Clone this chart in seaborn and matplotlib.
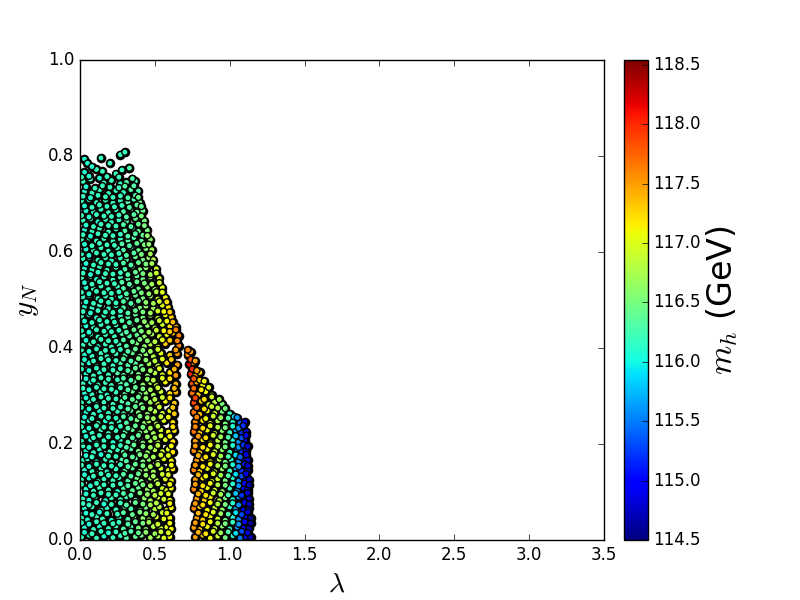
import matplotlib
matplotlib.use("Agg")
import matplotlib.pyplot as plt
from matplotlib.ticker import FormatStrFormatter
import seaborn as sns

# values, one line per band of y_N
lam_left = [
    .01,.06,.11,.16,.22,.27,.31,.37,.41,.47,.52,.56,.60,
    .03,.09,.13,.19,.24,.29,.34,.39,.44,.49,.54,.58,.61,
    .01,.05,.11,.15,.21,.26,.32,.36,.42,.46,.51,.56,.60,
    .03,.08,.14,.18,.24,.30,.34,.40,.44,.50,.53,.58,.61,
    .02,.06,.10,.17,.21,.27,.31,.37,.43,.47,.52,.56,.60,
    .04,.09,.13,.19,.25,.29,.35,.39,.45,.49,.55,.58,.61,
    .01,.06,.12,.16,.22,.26,.32,.38,.41,.47,.51,.57,.61,
    .03,.08,.14,.18,.24,.30,.35,.40,.44,.49,.54,.59,.62,
    .02,.05,.11,.17,.21,.28,.31,.37,.42,.46,.52,.56,.61,
    .04,.09,.13,.20,.25,.29,.34,.39,.45,.50,.55,.59,.62,
    .01,.07,.11,.16,.22,.27,.32,.36,.42,.47,.52,.57,.62,
    .03,.08,.14,.19,.24,.30,.35,.40,.44,.49,.54,.59,.63,
    .02,.06,.12,.17,.21,.26,.31,.38,.43,.46,.51,.56,.62,
    .04,.09,.13,.19,.25,.29,.34,.39,.45,.50,.55,.60,.63,
    .01,.06,.11,.16,.22,.28,.32,.37,.41,.47,.52,.57,.63,
    .03,.08,.14,.18,.24,.30,.35,.40,.44,.49,.54,.60,.64,
    .02,.07,.12,.17,.21,.27,.31,.36,.42,.47,.51,.57,.64,
    .04,.09,.13,.19,.25,.29,.34,.39,.45,.50,.55,.60,.64,
    .01,.06,.11,.16,.22,.27,.32,.37,.41,.46,.52,.58,.65,
    .03,.08,.14,.18,.24,.30,.35,.40,.44,.49,.54,.60,.65,
    .02,.07,.12,.17,.21,.26,.31,.38,.43,.47,.52,.57,.66,
    .02,.07,.12,.17,.23,.28,.33,.38,.43,.48,.53,.58,.62,.66,
    .04,.09,.14,.19,.24,.30,.34,.40,.45,.50,.55,.60,.64,
    .01,.06,.11,.16,.22,.27,.32,.37,.42,.47,.52,.57,.61,
    .03,.08,.13,.19,.24,.29,.35,.40,.44,.49,.55,.59,
    .02,.06,.12,.17,.21,.27,.31,.37,.42,.47,.52,.57,
    .04,.09,.14,.19,.25,.29,.34,.39,.45,.50,.55,
    .01,.07,.11,.16,.22,.27,.32,.38,.42,.47,.53,
    .03,.08,.13,.18,.24,.30,.35,.40,.44,.51,
    .02,.06,.12,.17,.21,.27,.31,.37,.42,.46,.49,
    .04,.09,.14,.19,.25,.29,.34,.39,.44,.48,
    .01,.06,.11,.16,.22,.27,.32,.36,.41,.47,
    .03,.08,.13,.19,.24,.30,.35,.39,.45,
    .02,.07,.12,.17,.21,.26,.31,.37,.43,
    .04,.09,.14,.19,.24,.29,.34,.38,.42,
    .01,.06,.11,.17,.22,.27,.32,.36,.40,
    .03,.08,.13,.19,.24,.29,.34,.39,
    .02,.07,.16,.21,.27,.31,.37,
    .03,.11,.15,.24,.28,.33,
    .03,.05,.14,.27,.30,
]
yn_left = [
    .006,.010,.004,.008,.005,.009,.004,.007,.010,.005,.008,.004,.007,
    .026,.022,.028,.024,.029,.023,.027,.025,.022,.028,.024,.027,.023,
    .046,.042,.049,.044,.041,.047,.043,.049,.045,.042,.048,.044,.046,
    .066,.069,.062,.067,.063,.069,.065,.062,.068,.064,.069,.062,.067,
    .086,.083,.089,.082,.088,.084,.090,.083,.087,.082,.089,.085,.083,
    .106,.102,.109,.104,.101,.108,.103,.109,.105,.102,.107,.103,.108,
    .126,.129,.122,.127,.124,.130,.123,.128,.122,.129,.124,.127,.123,
    .146,.143,.149,.142,.148,.144,.150,.143,.147,.142,.149,.145,.148,
    .166,.169,.163,.168,.162,.167,.164,.170,.163,.168,.162,.169,.165,
    .186,.182,.189,.184,.188,.183,.190,.185,.182,.188,.184,.189,.183,
    .206,.209,.202,.207,.203,.209,.204,.208,.202,.207,.203,.209,.205,
    .226,.223,.229,.222,.228,.224,.230,.223,.227,.222,.229,.225,.228,
    .246,.249,.243,.248,.242,.247,.244,.250,.243,.248,.242,.249,.245,
    .266,.262,.269,.264,.268,.263,.270,.265,.262,.268,.264,.269,.263,
    .286,.289,.282,.287,.283,.289,.284,.288,.282,.287,.283,.289,.285,
    .306,.303,.309,.302,.308,.304,.310,.303,.307,.302,.309,.305,.308,
    .326,.329,.323,.328,.322,.327,.324,.330,.323,.328,.322,.329,.325,
    .346,.342,.349,.344,.348,.343,.350,.345,.342,.348,.344,.349,.343,
    .366,.369,.362,.367,.363,.369,.364,.368,.362,.367,.363,.369,.365,
    .386,.383,.389,.382,.388,.384,.390,.383,.387,.382,.389,.385,.388,
    .406,.409,.403,.408,.402,.407,.404,.410,.403,.408,.402,.409,.405,
    .426,.429,.423,.428,.424,.430,.425,.427,.423,.429,.424,.428,.431,.426,
    .446,.443,.449,.442,.448,.444,.450,.443,.447,.442,.449,.445,.444,
    .466,.469,.463,.468,.462,.467,.464,.470,.463,.468,.462,.469,.464,
    .486,.483,.489,.482,.488,.484,.490,.483,.487,.482,.489,.485,
    .506,.509,.503,.508,.502,.507,.504,.510,.503,.508,.502,.505,
    .526,.523,.529,.522,.528,.524,.530,.523,.527,.522,.526,
    .546,.549,.543,.548,.542,.547,.544,.550,.543,.548,.545,
    .566,.563,.569,.562,.568,.564,.570,.563,.567,.565,
    .586,.589,.583,.588,.582,.587,.584,.590,.583,.588,.584,
    .606,.603,.609,.602,.608,.604,.610,.603,.607,.605,
    .626,.629,.623,.628,.622,.627,.624,.630,.623,.626,
    .646,.643,.649,.642,.648,.644,.650,.643,.645,
    .666,.669,.663,.668,.662,.667,.664,.670,.665,
    .686,.683,.689,.682,.688,.684,.690,.683,.686,
    .706,.709,.703,.708,.702,.707,.704,.710,.703,
    .726,.723,.729,.722,.728,.724,.730,.727,
    .747,.752,.744,.749,.742,.745,.747,
    .766,.772,.768,.763,.771,.775,
    .794,.785,.796,.803,.808,
]
mh_left = [
    116.2,116.1,116.2,116.1,116.2,116.2,116.3,116.4,116.5,116.7,116.8,117.0,117.1,
    116.1,116.2,116.1,116.2,116.2,116.3,116.3,116.5,116.6,116.8,116.9,117.0,117.1,
    116.2,116.1,116.2,116.2,116.1,116.2,116.3,116.4,116.6,116.7,116.9,117.0,117.1,
    116.1,116.2,116.1,116.2,116.2,116.3,116.3,116.5,116.5,116.8,116.8,117.0,117.1,
    116.2,116.1,116.2,116.1,116.2,116.2,116.3,116.4,116.6,116.7,116.9,116.9,117.1,
    116.1,116.2,116.2,116.2,116.1,116.3,116.4,116.4,116.6,116.7,116.9,117.0,117.1,
    116.2,116.1,116.1,116.2,116.2,116.2,116.3,116.5,116.5,116.7,116.8,117.0,117.1,
    116.1,116.2,116.2,116.1,116.2,116.3,116.4,116.5,116.6,116.7,116.9,117.0,117.2,
    116.2,116.1,116.1,116.2,116.2,116.3,116.3,116.4,116.5,116.6,116.8,117.0,117.1,
    116.1,116.2,116.2,116.2,116.2,116.3,116.3,116.5,116.6,116.8,116.9,117.0,117.2,
    116.2,116.1,116.1,116.2,116.1,116.2,116.3,116.4,116.5,116.7,116.8,117.0,117.2,
    116.1,116.2,116.2,116.2,116.2,116.3,116.4,116.5,116.6,116.7,116.9,117.1,117.2,
    116.2,116.1,116.2,116.1,116.2,116.2,116.3,116.5,116.6,116.7,116.8,117.0,117.2,
    116.1,116.2,116.1,116.2,116.2,116.3,116.3,116.5,116.6,116.8,116.9,117.1,117.3,
    116.2,116.2,116.1,116.2,116.2,116.3,116.3,116.4,116.5,116.7,116.9,117.1,117.3,
    116.1,116.2,116.2,116.1,116.2,116.3,116.4,116.5,116.6,116.7,116.9,117.2,117.4,
    116.2,116.1,116.2,116.2,116.2,116.3,116.3,116.4,116.6,116.7,116.9,117.1,117.4,
    116.1,116.2,116.1,116.2,116.3,116.3,116.4,116.5,116.6,116.8,117.0,117.2,117.5,
    116.2,116.1,116.2,116.2,116.2,116.3,116.3,116.4,116.5,116.7,116.9,117.2,117.5,
    116.1,116.2,116.2,116.2,116.2,116.3,116.4,116.5,116.6,116.8,117.0,117.3,117.5,
    116.2,116.2,116.1,116.2,116.2,116.2,116.3,116.5,116.6,116.8,117.0,117.3,117.6,
    116.2,116.1,116.2,116.2,116.2,116.3,116.3,116.4,116.6,116.7,116.9,117.1,117.4,117.6,
    116.1,116.2,116.2,116.2,116.2,116.3,116.3,116.5,116.6,116.8,116.9,117.2,117.4,
    116.2,116.1,116.2,116.2,116.2,116.2,116.3,116.4,116.5,116.7,116.9,117.1,117.3,
    116.1,116.2,116.2,116.2,116.2,116.3,116.4,116.5,116.6,116.7,117.0,117.2,
    116.2,116.1,116.2,116.2,116.2,116.2,116.3,116.4,116.5,116.7,116.9,117.1,
    116.1,116.2,116.2,116.2,116.2,116.3,116.3,116.4,116.6,116.7,117.0,
    116.2,116.2,116.1,116.2,116.2,116.2,116.3,116.4,116.5,116.7,116.9,
    116.1,116.2,116.2,116.2,116.2,116.3,116.3,116.5,116.6,116.9,
    116.2,116.1,116.2,116.2,116.2,116.2,116.3,116.4,116.5,116.6,116.8,
    116.1,116.2,116.2,116.2,116.2,116.3,116.3,116.4,116.5,116.7,
    116.2,116.1,116.2,116.2,116.2,116.2,116.3,116.3,116.4,116.6,
    116.1,116.2,116.2,116.2,116.2,116.3,116.3,116.4,116.5,
    116.2,116.2,116.1,116.2,116.2,116.2,116.3,116.4,116.5,
    116.1,116.2,116.2,116.2,116.2,116.3,116.3,116.4,116.4,
    116.2,116.1,116.2,116.2,116.2,116.2,116.3,116.3,116.4,
    116.1,116.2,116.2,116.2,116.2,116.2,116.3,116.3,
    116.2,116.2,116.2,116.2,116.2,116.3,116.3,
    116.1,116.2,116.2,116.2,116.2,116.3,
    116.1,116.1,116.2,116.2,116.2,
]

# second pass over the same cloud, the bands in between
lam_left2 = [
    .03,.08,.14,.19,.24,.30,.34,.39,.44,.50,.54,.59,
    .01,.06,.11,.16,.22,.26,.32,.37,.42,.46,.52,.60,
    .04,.08,.13,.18,.25,.29,.35,.40,.44,.49,.55,.58,
    .02,.06,.11,.16,.21,.27,.31,.37,.42,.47,.51,.60,
    .04,.09,.14,.19,.24,.29,.34,.40,.45,.50,.54,.59,
    .01,.07,.11,.16,.22,.27,.32,.37,.42,.47,.52,.60,
    .03,.09,.14,.19,.24,.29,.34,.39,.44,.49,.55,.59,
    .01,.06,.11,.16,.21,.27,.32,.37,.42,.47,.52,.61,
    .04,.08,.14,.19,.24,.30,.35,.40,.44,.49,.54,.59,
    .02,.06,.11,.16,.22,.27,.31,.36,.42,.47,.52,.61,
    .04,.09,.13,.19,.25,.29,.35,.39,.45,.50,.54,.60,
    .01,.06,.11,.16,.21,.27,.32,.37,.42,.47,.52,.62,
    .03,.08,.14,.19,.24,.29,.34,.40,.45,.49,.54,.59,
    .01,.06,.11,.16,.22,.27,.32,.37,.42,.47,.53,.62,
    .04,.09,.14,.19,.24,.30,.35,.39,.44,.50,.55,.60,
    .02,.06,.11,.16,.21,.27,.32,.37,.42,.47,.52,.63,
    .04,.09,.14,.19,.25,.29,.34,.39,.45,.49,.55,.60,
    .01,.06,.11,.16,.22,.27,.32,.37,.42,.47,.53,.63,
    .03,.09,.14,.19,.24,.29,.34,.39,.44,.50,.55,.61,
    .01,.06,.11,.17,.22,.27,.32,.37,.42,.47,.52,.64,
    .04,.09,.14,.19,.24,.29,.35,.40,.45,.50,.55,.60,.65,
    .01,.06,.11,.16,.21,.26,.31,.36,.41,.46,.51,.56,.60,.64,
    .03,.08,.13,.18,.23,.28,.33,.38,.43,.48,.53,.58,.62,
    .02,.07,.12,.17,.22,.27,.32,.37,.42,.47,.52,.56,.60,
    .04,.09,.14,.19,.24,.29,.34,.39,.44,.49,.53,.58,
    .01,.06,.11,.16,.21,.26,.31,.36,.41,.46,.51,.55,
    .03,.08,.13,.18,.23,.28,.33,.38,.43,.48,.53,
    .02,.07,.12,.17,.22,.27,.32,.37,.42,.47,.51,
    .04,.09,.14,.19,.24,.29,.34,.39,.44,.48,
    .01,.06,.11,.16,.21,.26,.31,.36,.41,.47,
    .03,.08,.13,.18,.23,.28,.33,.38,.43,.46,
    .02,.07,.12,.17,.22,.27,.32,.37,.42,.45,
    .04,.09,.14,.19,.24,.29,.34,.39,.43,
    .01,.06,.11,.16,.21,.26,.31,.36,.41,
    .03,.08,.13,.18,.23,.28,.33,.38,.41,
    .02,.07,.12,.17,.22,.27,.32,.37,.39,
    .04,.10,.15,.20,.26,.30,.36,
    .01,.06,.13,.18,.26,.35,
    .08,.20,.33,
]
yn_left2 = [
    .016,.013,.018,.015,.017,.014,.018,.015,.016,.013,.017,.015,
    .036,.033,.038,.035,.034,.037,.033,.038,.035,.037,.033,.035,
    .056,.053,.058,.055,.054,.057,.053,.058,.055,.053,.057,.056,
    .076,.073,.078,.075,.074,.077,.073,.078,.075,.073,.077,.076,
    .096,.093,.098,.095,.094,.097,.093,.098,.095,.093,.097,.096,
    .116,.113,.118,.115,.114,.117,.113,.118,.115,.113,.117,.116,
    .136,.133,.138,.135,.134,.137,.133,.138,.135,.133,.137,.136,
    .156,.153,.158,.155,.154,.157,.153,.158,.155,.153,.157,.156,
    .176,.173,.178,.175,.174,.177,.173,.178,.175,.173,.177,.176,
    .196,.193,.198,.195,.194,.197,.193,.198,.195,.193,.197,.196,
    .216,.213,.218,.215,.214,.217,.213,.218,.215,.213,.217,.216,
    .236,.233,.238,.235,.234,.237,.233,.238,.235,.233,.237,.236,
    .256,.253,.258,.255,.254,.257,.253,.258,.255,.253,.257,.256,
    .276,.273,.278,.275,.274,.277,.273,.278,.275,.273,.277,.276,
    .296,.293,.298,.295,.294,.297,.293,.298,.295,.293,.297,.296,
    .316,.313,.318,.315,.314,.317,.313,.318,.315,.313,.317,.316,
    .336,.333,.338,.335,.334,.337,.333,.338,.335,.333,.337,.336,
    .356,.353,.358,.355,.354,.357,.353,.358,.355,.353,.357,.356,
    .376,.373,.378,.375,.374,.377,.373,.378,.375,.373,.377,.376,
    .396,.393,.398,.395,.394,.397,.393,.398,.395,.393,.397,.396,
    .416,.413,.418,.415,.414,.417,.413,.418,.415,.413,.417,.416,.415,
    .436,.433,.438,.435,.434,.437,.433,.438,.435,.433,.437,.436,.434,.438,
    .456,.453,.458,.455,.454,.457,.453,.458,.455,.453,.457,.456,.454,
    .476,.473,.478,.475,.474,.477,.473,.478,.475,.473,.477,.476,.475,
    .496,.493,.498,.495,.494,.497,.493,.498,.495,.493,.497,.496,
    .516,.513,.518,.515,.514,.517,.513,.518,.515,.513,.517,.516,
    .536,.533,.538,.535,.534,.537,.533,.538,.535,.533,.536,
    .556,.553,.558,.555,.554,.557,.553,.558,.555,.553,.556,
    .576,.573,.578,.575,.574,.577,.573,.578,.575,.576,
    .596,.593,.598,.595,.594,.597,.593,.598,.595,.596,
    .616,.613,.618,.615,.614,.617,.613,.618,.615,.616,
    .636,.633,.638,.635,.634,.637,.633,.638,.635,.634,
    .656,.653,.658,.655,.654,.657,.653,.658,.655,
    .676,.673,.678,.675,.674,.677,.673,.678,.675,
    .696,.693,.698,.695,.694,.697,.693,.698,.695,
    .716,.713,.718,.715,.714,.717,.713,.718,.714,
    .736,.733,.738,.735,.734,.737,.738,
    .756,.758,.754,.757,.756,.753,
    .778,.785,.775,
]
mh_left2 = [
    116.1,116.2,116.2,116.1,116.2,116.3,116.3,116.4,116.6,116.7,116.9,117.0,
    116.2,116.1,116.2,116.2,116.2,116.2,116.3,116.4,116.5,116.7,116.9,117.1,
    116.1,116.2,116.1,116.2,116.2,116.3,116.4,116.5,116.6,116.7,116.9,117.0,
    116.2,116.2,116.2,116.1,116.2,116.2,116.3,116.4,116.5,116.7,116.8,117.1,
    116.1,116.2,116.2,116.2,116.2,116.3,116.3,116.5,116.6,116.8,116.9,117.0,
    116.2,116.1,116.2,116.2,116.2,116.2,116.3,116.4,116.5,116.7,116.8,117.1,
    116.1,116.2,116.2,116.2,116.2,116.3,116.3,116.4,116.6,116.7,116.9,117.0,
    116.2,116.1,116.2,116.2,116.2,116.2,116.3,116.4,116.5,116.7,116.8,117.1,
    116.1,116.2,116.1,116.2,116.2,116.3,116.4,116.5,116.6,116.7,116.9,117.0,
    116.2,116.1,116.2,116.2,116.2,116.2,116.3,116.4,116.5,116.7,116.8,117.1,
    116.1,116.2,116.2,116.2,116.2,116.3,116.3,116.4,116.6,116.7,116.9,117.1,
    116.2,116.1,116.2,116.2,116.2,116.2,116.3,116.4,116.5,116.7,116.8,117.2,
    116.1,116.2,116.2,116.2,116.2,116.3,116.3,116.5,116.6,116.7,116.9,117.1,
    116.2,116.1,116.2,116.2,116.2,116.2,116.3,116.4,116.5,116.7,116.9,117.3,
    116.1,116.2,116.2,116.2,116.2,116.3,116.4,116.4,116.6,116.8,116.9,117.2,
    116.2,116.1,116.2,116.2,116.2,116.2,116.3,116.4,116.5,116.7,116.9,117.4,
    116.1,116.2,116.2,116.2,116.2,116.3,116.3,116.5,116.6,116.8,117.0,117.2,
    116.2,116.1,116.2,116.2,116.2,116.2,116.3,116.4,116.5,116.7,117.0,117.4,
    116.1,116.2,116.2,116.2,116.2,116.3,116.3,116.5,116.6,116.8,117.0,117.3,
    116.2,116.1,116.2,116.2,116.2,116.2,116.3,116.4,116.5,116.7,116.9,117.5,
    116.1,116.2,116.2,116.2,116.2,116.3,116.4,116.5,116.6,116.8,117.0,117.3,117.6,
    116.2,116.1,116.2,116.2,116.2,116.2,116.3,116.4,116.5,116.7,116.9,117.1,117.3,117.6,
    116.1,116.2,116.2,116.2,116.2,116.3,116.3,116.4,116.6,116.7,116.9,117.1,117.4,
    116.2,116.1,116.2,116.2,116.2,116.2,116.3,116.4,116.5,116.7,116.9,117.1,117.3,
    116.1,116.2,116.2,116.2,116.2,116.3,116.3,116.4,116.6,116.7,116.9,117.2,
    116.2,116.1,116.2,116.2,116.2,116.2,116.3,116.4,116.5,116.6,116.8,117.0,
    116.1,116.2,116.2,116.2,116.2,116.3,116.3,116.4,116.5,116.7,116.9,
    116.2,116.1,116.2,116.2,116.2,116.2,116.3,116.4,116.5,116.7,116.9,
    116.1,116.2,116.2,116.2,116.2,116.3,116.3,116.4,116.5,116.7,
    116.2,116.1,116.2,116.2,116.2,116.2,116.3,116.3,116.5,116.7,
    116.1,116.2,116.2,116.2,116.2,116.3,116.3,116.4,116.5,116.6,
    116.2,116.1,116.2,116.2,116.2,116.2,116.3,116.3,116.4,116.6,
    116.1,116.2,116.2,116.2,116.2,116.3,116.3,116.4,116.5,
    116.2,116.1,116.2,116.2,116.2,116.2,116.3,116.3,116.5,
    116.1,116.2,116.2,116.2,116.2,116.2,116.3,116.4,116.4,
    116.2,116.1,116.2,116.2,116.2,116.2,116.3,116.3,116.4,
    116.1,116.2,116.2,116.2,116.2,116.3,116.3,
    116.2,116.1,116.1,116.2,116.2,116.3,
    116.1,116.2,116.3,
]

lam_right = [
    .77,.82,.87,.92,.97,1.02,1.07,1.11,1.14,
    .76,.80,.85,.90,.95,1.00,1.05,1.09,1.13,
    .78,.82,.87,.92,.97,1.02,1.06,1.10,1.14,
    .76,.80,.85,.90,.95,1.00,1.04,1.09,1.13,
    .78,.83,.87,.93,.97,1.02,1.06,1.10,1.13,
    .76,.81,.85,.90,.95,1.00,1.05,1.09,1.12,
    .77,.82,.88,.92,.97,1.02,1.06,1.10,1.13,
    .76,.80,.85,.90,.95,1.00,1.04,1.08,1.12,
    .78,.82,.87,.93,.97,1.01,1.06,1.09,1.12,
    .76,.80,.85,.90,.95,1.00,1.05,1.08,1.11,
    .77,.82,.87,.92,.97,1.02,1.06,1.10,
    .76,.80,.85,.90,.95,1.00,1.04,1.08,1.11,
    .77,.82,.87,.92,.97,1.02,1.07,1.10,
    .76,.80,.85,.90,.95,1.00,
    .76,.81,.86,.90,.95,
    .75,.79,.84,.88,
    .75,.78,.82,
    .74,.77,.80,
    .73,.76,
    .72,.74,
]
yn_right = [
    .006,.010,.004,.008,.005,.009,.004,.007,.006,
    .026,.022,.028,.024,.029,.023,.027,.025,.024,
    .046,.042,.049,.044,.041,.047,.043,.049,.045,
    .066,.069,.062,.067,.063,.069,.065,.062,.066,
    .086,.083,.089,.082,.088,.084,.090,.083,.086,
    .106,.102,.109,.104,.101,.108,.103,.109,.105,
    .126,.129,.122,.127,.124,.130,.123,.128,.126,
    .146,.143,.149,.142,.148,.144,.150,.143,.146,
    .166,.169,.163,.168,.162,.167,.164,.170,.166,
    .186,.182,.189,.184,.188,.183,.190,.185,.186,
    .206,.209,.202,.207,.203,.209,.204,.208,
    .226,.223,.229,.222,.228,.224,.230,.223,.226,
    .246,.249,.243,.248,.242,.247,.244,.246,
    .266,.262,.269,.264,.268,.263,
    .286,.289,.282,.287,.283,
    .306,.303,.309,.302,
    .326,.329,.323,
    .346,.342,.349,
    .366,.369,
    .386,.392,
]
mh_right = [
    117.5,117.3,117.1,116.9,116.5,116.1,115.5,114.9,114.7,
    117.5,117.3,117.1,116.9,116.6,116.2,115.6,115.0,114.7,
    117.5,117.3,117.1,116.9,116.5,116.1,115.6,114.9,114.6,
    117.6,117.3,117.1,116.9,116.6,116.2,115.7,115.0,114.7,
    117.5,117.3,117.1,116.8,116.5,116.1,115.6,115.0,114.7,
    117.6,117.3,117.1,116.9,116.6,116.2,115.6,115.0,114.8,
    117.5,117.2,117.0,116.9,116.5,116.1,115.6,115.0,114.7,
    117.6,117.3,117.1,116.9,116.6,116.2,115.7,115.2,114.8,
    117.5,117.3,117.1,116.8,116.5,116.2,115.6,115.1,114.8,
    117.6,117.3,117.1,116.9,116.6,116.2,115.6,115.2,114.8,
    117.5,117.2,117.0,116.8,116.5,116.1,115.6,115.0,
    117.7,117.3,117.1,116.9,116.6,116.2,115.7,115.2,114.8,
    117.6,117.2,117.0,116.8,116.5,116.1,115.4,115.0,
    117.7,117.4,117.1,116.9,116.5,116.2,
    117.9,117.3,117.0,116.8,116.5,
    117.7,117.4,117.1,116.9,
    117.8,117.4,117.1,
    118.0,117.5,117.3,
    118.2,117.6,
    117.6,117.5,
]

lam_right2 = [
    .79,.84,.89,.94,.99,1.04,1.08,1.12,
    .77,.82,.87,.92,.97,1.02,1.06,1.10,1.14,
    .79,.84,.89,.94,.99,1.04,1.08,1.12,
    .77,.82,.87,.92,.97,1.02,1.06,1.10,1.13,
    .79,.84,.89,.94,.99,1.04,1.08,1.12,
    .77,.82,.87,.92,.97,1.02,1.06,1.10,1.13,
    .79,.84,.89,.94,.99,1.04,1.08,1.11,
    .77,.82,.87,.92,.97,1.02,1.06,1.10,1.12,
    .79,.84,.89,.94,.99,1.04,1.07,1.11,
    .77,.82,.87,.92,.97,1.02,1.06,1.09,1.12,
    .79,.84,.89,.94,.99,1.04,1.08,1.11,
    .77,.82,.87,.92,.97,1.02,1.06,1.09,
    .78,.84,.89,.94,.99,1.03,1.05,
    .78,.83,.88,.92,.97,
    .77,.83,.88,.93,
    .76,.81,.86,
    .76,.80,.83,
    .75,.78,
    .74,.77,
    .72,
]
yn_right2 = [
    .016,.013,.018,.015,.017,.014,.018,.015,
    .036,.033,.038,.035,.034,.037,.033,.038,.035,
    .056,.053,.058,.055,.054,.057,.053,.058,
    .076,.073,.078,.075,.074,.077,.073,.078,.075,
    .096,.093,.098,.095,.094,.097,.093,.098,
    .116,.113,.118,.115,.114,.117,.113,.118,.115,
    .136,.133,.138,.135,.134,.137,.133,.138,
    .156,.153,.158,.155,.154,.157,.153,.158,.155,
    .176,.173,.178,.175,.174,.177,.173,.178,
    .196,.193,.198,.195,.194,.197,.193,.198,.195,
    .216,.213,.218,.215,.214,.217,.213,.218,
    .236,.233,.238,.235,.234,.237,.233,.238,
    .256,.253,.258,.255,.254,.257,.255,
    .276,.273,.278,.275,.274,
    .296,.293,.298,.293,
    .316,.313,.318,
    .336,.333,.331,
    .356,.353,
    .376,.373,
    .396,
]
mh_right2 = [
    117.4,117.2,117.0,116.7,116.3,115.9,115.3,114.8,
    117.5,117.2,117.1,116.8,116.5,116.2,115.6,115.0,114.6,
    117.4,117.2,117.0,116.7,116.3,115.9,115.3,114.8,
    117.5,117.2,117.1,116.8,116.5,116.1,115.6,115.0,114.7,
    117.4,117.2,116.9,116.7,116.3,115.8,115.2,114.8,
    117.5,117.2,117.1,116.8,116.5,116.1,115.6,115.0,114.7,
    117.4,117.1,117.0,116.7,116.3,115.9,115.3,114.9,
    117.5,117.2,117.1,116.8,116.5,116.1,115.6,115.1,114.8,
    117.4,117.2,117.0,116.7,116.3,115.9,115.4,114.9,
    117.5,117.2,117.1,116.8,116.5,116.1,115.6,115.2,114.8,
    117.5,117.2,116.9,116.7,116.3,115.8,115.3,114.9,
    117.6,117.2,117.0,116.8,116.5,116.1,115.6,115.2,
    117.6,117.1,116.9,116.7,116.3,115.9,115.6,
    117.7,117.2,116.9,116.8,116.5,
    117.9,117.2,116.9,116.7,
    117.7,117.2,117.0,
    117.8,117.3,117.1,
    118.0,117.5,
    117.8,117.5,
    117.6,
]

cbar_ticks = [114.5, 115.0, 115.5, 116.0, 116.5, 117.0, 117.5, 118.0, 118.5]

plt.style.use("classic")
plt.rcParams["mathtext.fontset"] = "cm"
plt.rcParams["font.family"] = "DejaVu Sans"

fig = plt.figure(figsize=(8, 6), dpi=100, facecolor="white")
ax = fig.add_axes([0.1, 0.1, 0.655, 0.8])
cax = fig.add_axes([0.78, 0.1, 0.03, 0.8])

lam = lam_left + lam_left2 + lam_right + lam_right2
yn = yn_left + yn_left2 + yn_right + yn_right2
mh = mh_left + mh_left2 + mh_right + mh_right2
norm = plt.Normalize(114.5, 118.54)
jet = plt.get_cmap("jet")

# black layer under the dots, the dense cloud in the original reads almost black between them
sns.scatterplot(x=lam, y=yn, color="black", s=48, linewidth=0, legend=False, ax=ax)
sns.scatterplot(x=lam, y=yn, hue=mh, palette=jet, hue_norm=norm, s=20,
                edgecolor="black", linewidth=1, legend=False, ax=ax)

ax.set_xlim(0, 3.5)
ax.set_ylim(0, 1)
ax.tick_params(labelsize=12)
ax.set_xlabel(r"$\lambda$", fontsize=20, labelpad=4)
ax.xaxis.set_label_coords(0.49, -0.062, transform=ax.transAxes)
ax.xaxis.label.set_verticalalignment("top")
ax.set_ylabel(r"$y_N$", fontsize=21)

sm = plt.cm.ScalarMappable(norm=norm, cmap=jet)
cbar = fig.colorbar(sm, cax=cax, ticks=cbar_ticks, format=FormatStrFormatter("%.1f"))
cbar.ax.tick_params(labelsize=12)
cbar.set_label(r"$m_h$ (GeV)", fontsize=24, labelpad=2)

fig.savefig("out.png", dpi=100)
